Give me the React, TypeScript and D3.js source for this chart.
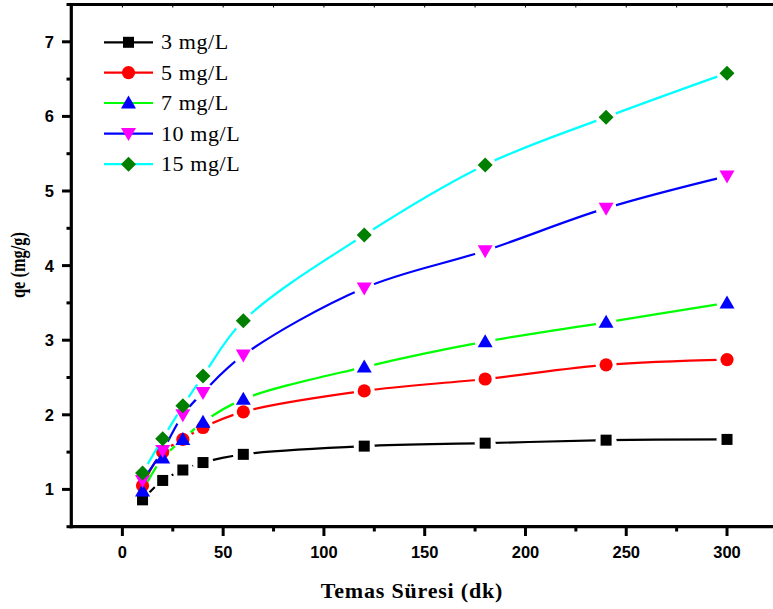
import React from "react";
import * as d3 from "d3";

const times = [10, 20, 30, 40, 60, 120, 180, 240, 300];
const s3 = [0.86, 1.12, 1.26, 1.36, 1.47, 1.58, 1.62, 1.66, 1.67];
const s5 = [1.05, 1.5, 1.67, 1.83, 2.04, 2.32, 2.48, 2.67, 2.74];
const s7 = [0.98, 1.42, 1.67, 1.9, 2.21, 2.64, 2.98, 3.24, 3.5];
const s10 = [1.12, 1.52, 2.0, 2.3, 2.8, 3.7, 4.2, 4.77, 5.2];
const s15 = [1.22, 1.68, 2.12, 2.52, 3.26, 4.41, 5.35, 5.99, 6.58];
const seriesNames = ["3 mg/L", "5 mg/L", "7 mg/L", "10 mg/L", "15 mg/L"];
const xTicks = [0, 50, 100, 150, 200, 250, 300];
const yTicks = [1, 2, 3, 4, 5, 6, 7];

const W = 773;
const H = 609;

const styles = [
  { line: "#000000", fill: "#000000", shape: "square" },
  { line: "#ff0000", fill: "#ff0000", shape: "circle" },
  { line: "#00ff00", fill: "#0000ff", shape: "up" },
  { line: "#0000ff", fill: "#ff00ff", shape: "down" },
  { line: "#00ffff", fill: "#007f00", shape: "diamond" },
];

function Marker({ shape, x, y, fill }: { shape: string; x: number; y: number; fill: string }) {
  if (shape === "square") return <rect x={x - 5.5} y={y - 5.5} width={11} height={11} fill={fill} />;
  if (shape === "circle") return <circle cx={x} cy={y} r={6.6} fill={fill} />;
  if (shape === "up")
    return <path d={`M${x},${y - 7.5}L${x + 7.5},${y + 5.5}L${x - 7.5},${y + 5.5}Z`} fill={fill} />;
  if (shape === "down")
    return <path d={`M${x},${y + 7.5}L${x + 7.5},${y - 5.5}L${x - 7.5},${y - 5.5}Z`} fill={fill} />;
  return <path d={`M${x},${y - 7.5}L${x + 7.5},${y}L${x},${y + 7.5}L${x - 7.5},${y}Z`} fill={fill} />;
}

const serif = "'Liberation Serif', 'Times New Roman', serif";
const sans = "'Liberation Sans', Arial, sans-serif";

export default function App() {
  const x = d3.scaleLinear().domain([-25, 325]).range([72, 777.4]);
  const y = d3.scaleLinear().domain([0.5, 7.5]).range([526.7, 4.5]);
  const all = [s3, s5, s7, s10, s15];
  const line = d3
    .line<[number, number]>()
    .x((d) => x(d[0]))
    .y((d) => y(d[1]))
    .curve(d3.curveCatmullRom.alpha(0.5));

  const minorX = d3.range(-25, 326, 25);
  const minorY = d3.range(0.5, 7.51, 0.5);
  const legendX0 = 104;
  const legendX1 = 153;
  const legendY = [42.3, 72.6, 103, 133.6, 164.2];

  return (
    <svg
      width={W}
      height={H}
      style={{ position: "absolute", left: 0, top: 0, background: "#fff" }}
      xmlns="http://www.w3.org/2000/svg"
    >
      <rect x={0} y={0} width={W} height={H} fill="#fff" />
      <defs>
        {all.map((vals, i) => (
          <mask id={`m${i}`} key={i} maskUnits="userSpaceOnUse" x={0} y={0} width={W} height={H}>
            <rect x={0} y={0} width={W} height={H} fill="#fff" />
            {vals.map((v, j) => (
              <circle key={j} cx={x(times[j])} cy={y(v)} r={10.5} fill="#000" />
            ))}
          </mask>
        ))}
      </defs>

      {all.map((vals, i) => {
        const pts = vals.map((v, j) => [times[j], v] as [number, number]);
        return (
          <g key={i}>
            <path d={line(pts) || ""} fill="none" stroke={styles[i].line} strokeWidth={2.2} mask={`url(#m${i})`} />
            {pts.map((p, j) => (
              <Marker key={j} shape={styles[i].shape} x={x(p[0])} y={y(p[1])} fill={styles[i].fill} />
            ))}
          </g>
        );
      })}

      <g stroke="#000" strokeLinecap="square">
        <line x1={71.3} y1={4.5} x2={71.3} y2={526.7} strokeWidth={3.2} />
        <line x1={71.3} y1={526.7} x2={W + 10} y2={526.7} strokeWidth={3.2} />
        <line x1={71.3} y1={4.5} x2={W + 10} y2={4.5} strokeWidth={3.2} />
        {xTicks.map((t) => (
          <line key={`xt${t}`} x1={x(t)} x2={x(t)} y1={526.7} y2={536} strokeWidth={3} strokeLinecap="butt" />
        ))}
        {minorX
          .filter((t) => !xTicks.includes(t) && t > -25)
          .map((t) => (
            <line key={`xm${t}`} x1={x(t)} x2={x(t)} y1={526.7} y2={531.5} strokeWidth={3} strokeLinecap="butt" />
          ))}
        {minorX
          .filter((t) => t > -25)
          .map((t) => (
            <line key={`xtop${t}`} x1={x(t)} x2={x(t)} y1={4.5} y2={7.5} strokeWidth={1} strokeLinecap="butt" />
          ))}
        {yTicks.map((t) => (
          <line key={`yt${t}`} x1={62} x2={71.3} y1={y(t)} y2={y(t)} strokeWidth={3} strokeLinecap="butt" />
        ))}
        {minorY
          .filter((t) => !yTicks.includes(t))
          .map((t) => (
            <line key={`ym${t}`} x1={66.5} x2={71.3} y1={y(t)} y2={y(t)} strokeWidth={3} strokeLinecap="butt" />
          ))}
      </g>

      <g fontFamily={sans} fontWeight="bold" fontSize={16.5} fill="#000">
        {xTicks.map((t) => (
          <text key={`xl${t}`} x={x(t)} y={558} textAnchor="middle">
            {t}
          </text>
        ))}
        {yTicks.map((t) => (
          <text key={`yl${t}`} x={54} y={y(t) + 6} textAnchor="end">
            {t}
          </text>
        ))}
      </g>

      <text x={412} y={598} textAnchor="middle" fontFamily={serif} fontWeight="bold" fontSize={22} letterSpacing={0.8}>
        Temas Süresi (dk)
      </text>
      <text
        transform={`translate(25,265) rotate(-90)`}
        textAnchor="middle"
        fontFamily={serif}
        fontWeight="bold"
        fontSize={20}
        textLength={66}
        lengthAdjust="spacingAndGlyphs"
      >
        qe (mg/g)
      </text>

      {seriesNames.map((name, i) => (
        <g key={name}>
          <line x1={legendX0} x2={legendX1} y1={legendY[i]} y2={legendY[i]} stroke={styles[i].line} strokeWidth={2.2} />
          <Marker shape={styles[i].shape} x={(legendX0 + legendX1) / 2} y={legendY[i]} fill={styles[i].fill} />
          <text x={161} y={legendY[i] + 7} fontFamily={serif} fontSize={22} letterSpacing={0.6}>
            {name}
          </text>
        </g>
      ))}
    </svg>
  );
}
